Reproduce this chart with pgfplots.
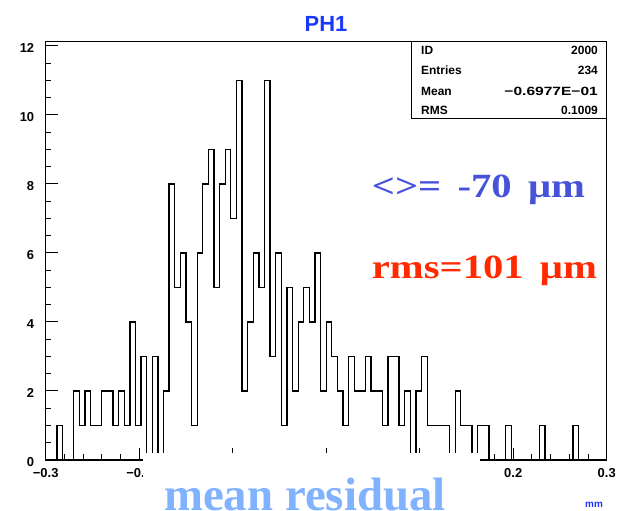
\documentclass[border=0pt]{standalone}
\usepackage{pgfplots}
\pgfplotsset{compat=1.18}
\usepackage{fontspec}
\setmainfont{Liberation Serif}
\newfontfamily\hv{Liberation Sans}
\definecolor{titleblue}{RGB}{25,55,255}
\definecolor{meanblue}{RGB}{70,82,218}
\definecolor{rmsred}{RGB}{255,42,0}
\definecolor{residblue}{RGB}{128,178,255}
\begin{document}
\begin{tikzpicture}[x=1bp,y=1bp]
\useasboundingbox (0,0) rectangle (619,511);
\begin{axis}[
  at={(45.7bp,51bp)}, anchor=south west,
  scale only axis, width=561bp, height=418.3bp,
  xmin=-0.3, xmax=0.3, ymin=0, ymax=12.12,
  axis line style={line width=1.2bp},
  xtick={-0.3,-0.2,-0.1,0,0.1,0.2,0.3},
  xticklabels={−0.3,−0.2,−0.1,0,0.1,0.2,0.3},
  minor x tick num=4,
  ytick={0,2,4,6,8,10,12},
  yticklabels={0,2,4,6,8,10,12},
  minor y tick num=3,
  xtick pos=bottom, ytick pos=left,
  tick align=inside,
  major tick length=12bp, minor tick length=5.5bp,
  every tick/.style={black, line width=1bp},
  tick label style={font=\hv\bfseries\fontsize{13}{13}\selectfont},
  yticklabel style={xshift=-8bp, yshift=-2bp},
  xticklabel style={yshift=-5bp},
]
\addplot[const plot, black, line width=1.3bp] coordinates {
(-0.300,0) (-0.294,0) (-0.288,1) (-0.282,0) (-0.276,0) (-0.270,2) (-0.264,1) (-0.258,2) (-0.252,1) (-0.246,1)
(-0.240,2) (-0.234,2) (-0.228,1) (-0.222,2) (-0.216,1) (-0.210,4) (-0.204,1) (-0.198,3) (-0.192,0) (-0.186,3)
(-0.180,0) (-0.174,2) (-0.168,8) (-0.162,5) (-0.156,6) (-0.150,4) (-0.144,1) (-0.138,6) (-0.132,8) (-0.126,9)
(-0.120,5) (-0.114,8) (-0.108,9) (-0.102,7) (-0.096,11) (-0.090,2) (-0.084,4) (-0.078,6) (-0.072,5) (-0.066,11)
(-0.060,3) (-0.054,6) (-0.048,1) (-0.042,5) (-0.036,2) (-0.030,4) (-0.024,5) (-0.018,4) (-0.012,6) (-0.006,2)
(0.000,4) (0.006,3) (0.012,2) (0.018,1) (0.024,3) (0.030,2) (0.036,2) (0.042,3) (0.048,2) (0.054,2)
(0.060,1) (0.066,3) (0.072,3) (0.078,1) (0.084,2) (0.090,0) (0.096,2) (0.102,3) (0.108,1) (0.114,1)
(0.120,1) (0.126,1) (0.132,0) (0.138,2) (0.144,1) (0.150,1) (0.156,0) (0.162,1) (0.168,1) (0.174,0)
(0.180,0) (0.186,0) (0.192,1) (0.198,0) (0.204,0) (0.210,0) (0.216,0) (0.222,0) (0.228,1) (0.234,0)
(0.240,0) (0.246,0) (0.252,0) (0.258,0) (0.264,1) (0.270,0) (0.276,0) (0.282,0) (0.288,0) (0.294,0)
(0.300,0)
};
\end{axis}
% white overlay box from the slide
\fill[white] (143,-5) rectangle (480,58.3);
% title
\node[anchor=base, inner sep=0, text=titleblue, font=\hv\bfseries\fontsize{22}{22}\selectfont] at (326,479.3) {PH1};
% statistics box
\draw[line width=1bp] (411,469.3) rectangle (606.7,392.7);
\begin{scope}[every node/.style={inner sep=0, font=\hv\bfseries\fontsize{12}{12}\selectfont}]
\node[anchor=west] at (421,461) {ID};
\node[anchor=west] at (421,441) {Entries};
\node[anchor=west] at (421,420) {Mean};
\node[anchor=west] at (421,401) {RMS};
\node[anchor=east] at (598,461) {2000};
\node[anchor=east] at (598,441) {234};
\node[anchor=east] at (598,420) {\scalebox{1.3}[1]{−0.6977E−01}};
\node[anchor=east] at (598,401) {0.1009};
\end{scope}
% annotations
\node[anchor=base west, inner sep=0, text=meanblue, font=\bfseries\fontsize{34}{34}\selectfont] at (371.7,313.7) {\scalebox{1.2}[1]{<>=\hspace{0.4em}-70\hspace{0.4em}μm}};
\node[anchor=base west, inner sep=0, text=rmsred, font=\bfseries\fontsize{34}{34}\selectfont] at (371.7,232) {\scalebox{1.2}[1]{rms=101\hspace{0.4em}μm}};
\node[anchor=base west, inner sep=0, text=residblue, font=\bfseries\fontsize{47}{47}\selectfont] at (164,0) {mean residual};
\node[inner sep=0, text=titleblue, font=\hv\bfseries\fontsize{10}{10}\selectfont] at (594,6) {mm};
\end{tikzpicture}
\end{document}
